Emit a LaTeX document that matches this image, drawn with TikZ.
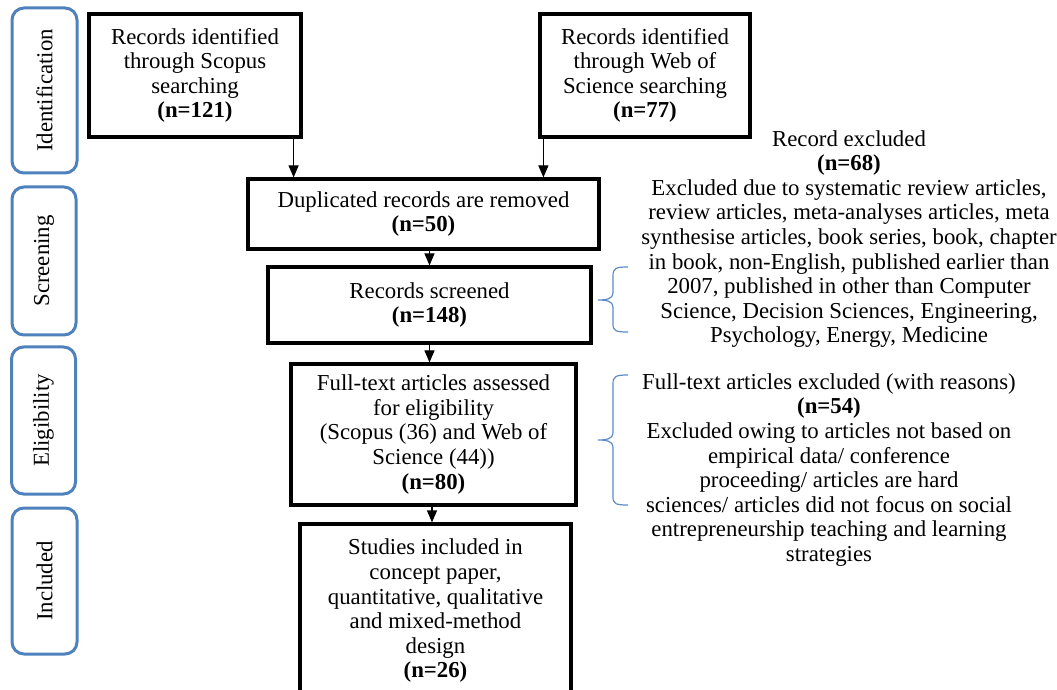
\documentclass[tikz,border=0pt]{standalone}
\usepackage{fontspec}
\setmainfont{Liberation Serif}
\usetikzlibrary{arrows.meta}
\definecolor{stageblue}{RGB}{79,129,189}
\definecolor{bracecol}{RGB}{91,140,200}
\newcommand\dfont{\fontsize{11.4}{12.3}\selectfont}
\tikzset{
  box/.style={draw=black, line width=1.6pt, align=center, inner sep=0pt, font=\dfont},
  stage/.style={draw=stageblue, line width=1.5pt, rounded corners=6pt, rotate=90, inner sep=0pt, font=\dfont},
  note/.style={align=center, inner sep=0pt, font=\dfont},
  arr/.style={line width=0.6pt, -{Triangle[width=5pt,length=6pt]}},
  bracestyle/.style={draw=bracecol, line width=0.6pt}
}
\begin{document}
\begin{tikzpicture}[x=0.5pt,y=-0.5pt]
\useasboundingbox (0,0) rectangle (1057,690);
% stage labels
\node[stage, minimum width=82.5pt, minimum height=32.5pt] (s1) at (44.5,90.5) {Identification};
\node[stage, minimum width=74pt, minimum height=32pt] (s2) at (44,261) {Screening};
\node[stage, minimum width=73.5pt, minimum height=32pt] (s3) at (43.5,420.5) {Eligibility};
\node[stage, minimum width=73pt, minimum height=32.5pt] (s4) at (44.5,581) {Included};
% boxes
\node[box, minimum width=106pt, minimum height=61.5pt] (scopus) at (195,75.5) {Records identified\\through Scopus\\searching\\\textbf{(n=121)}};
\node[box, minimum width=105pt, minimum height=61.5pt] (wos) at (645,75.5) {Records identified\\through Web of\\Science searching\\\textbf{(n=77)}};
\node[box, minimum width=175.5pt, minimum height=35pt] (dup) at (423.5,214) {Duplicated records are removed\\\textbf{(n=50)}};
\node[box, minimum width=161.5pt, minimum height=38pt] (scr) at (429.5,305) {Records screened\\\textbf{(n=148)}};
\node[box, minimum width=142.5pt, minimum height=70.5pt] (full) at (433.5,434.5) {Full-text articles assessed\\for eligibility\\(Scopus (36) and Web of\\Science (44))\\\textbf{(n=80)}};
\node[box, minimum width=135.5pt, minimum height=87pt] (stud) at (435.5,611) {Studies included in\\concept paper,\\quantitative, qualitative\\and mixed-method\\design\\\textbf{(n=26)}};
% arrows
\draw[arr] ([xshift=-4.5pt]scopus.south east) -- ([xshift=-4.5pt]scopus.south east |- dup.north);
\draw[arr] ([xshift=2.5pt]wos.south west) -- ([xshift=2.5pt]wos.south west |- dup.north);
\draw[arr] (scr.north |- dup.south) -- (scr.north);
\draw[arr] (scr.south) -- (scr.south |- full.north);
\draw[arr] ([xshift=-0.75pt]full.south) -- ([xshift=-0.75pt]full.south |- stud.north);
% exclusion notes
\node[note] (ex1) at (849,239) {Record excluded\\\textbf{(n=68)}\\Excluded due to systematic review articles,\\review articles, meta-analyses articles, meta\\synthesise articles, book series, book, chapter\\in book, non-English, published earlier than\\2007, published in other than Computer\\Science, Decision Sciences, Engineering,\\Psychology, Energy, Medicine};
\node[note] (ex2) at (829,470) {Full-text articles excluded (with reasons)\\\textbf{(n=54)}\\Excluded owing to articles not based on\\empirical data/ conference\\proceeding/ articles are hard\\sciences/ articles did not focus on social\\entrepreneurship teaching and learning\\strategies};
% braces
\draw[bracestyle] (628,267) .. controls (616,267) and (613,268) .. (613,276) -- (613,293) .. controls (613,299) and (606,300) .. (598,300)
  .. controls (606,300) and (613,301) .. (613,307) -- (613,324) .. controls (613,331) and (616,332) .. (628,332);
\draw[bracestyle] (628,375) .. controls (616,375) and (613,376) .. (613,384) -- (613,433) .. controls (613,439) and (606,440) .. (598,440)
  .. controls (606,440) and (613,441) .. (613,447) -- (613,497) .. controls (613,504) and (616,505) .. (628,505);
\end{tikzpicture}
\end{document}
